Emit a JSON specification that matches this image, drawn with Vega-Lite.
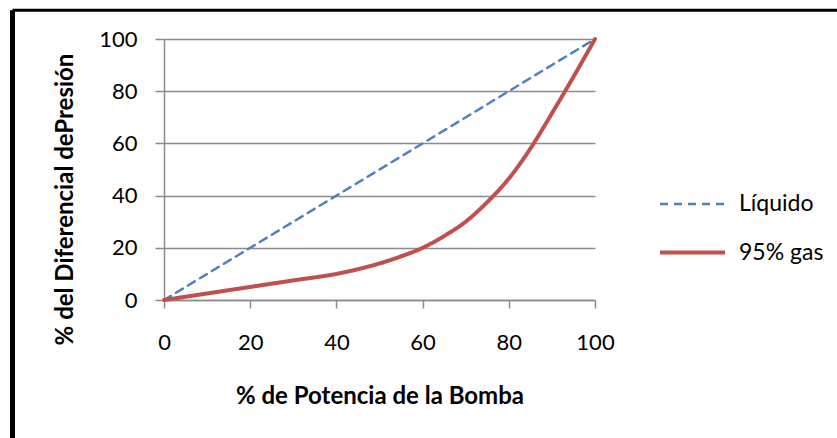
{
  "$schema": "https://vega.github.io/schema/vega-lite/v6.json",
  "autosize": {"type": "none"},
  "width": 431,
  "height": 261,
  "padding": {"left": 164, "top": 39, "right": 242, "bottom": 138},
  "background": "white",
  "config": {
    "view": {"stroke": null},
    "font": "Lato",
    "axis": {
      "labelFont": "Lato",
      "titleFont": "Lato",
      "labelFontSize": 22,
      "labelColor": "#000000",
      "labelFlush": false,
      "titleColor": "#000000",
      "titleFontSize": 24,
      "titleFontWeight": "bold",
      "domainColor": "#8c8c8c",
      "domainWidth": 1.5,
      "tickColor": "#8c8c8c",
      "tickWidth": 1.5,
      "gridColor": "#8c8c8c",
      "gridWidth": 1.5
    },
    "legend": {
      "labelFont": "Lato",
      "labelFontSize": 23,
      "labelColor": "#000000"
    }
  },
  "datasets": {
    "curves": [
      {"potencia": 0, "presion": 0, "serie": "Líquido"},
      {"potencia": 100, "presion": 100, "serie": "Líquido"},
      {"potencia": 0, "presion": 0, "serie": "95% gas"},
      {"potencia": 10, "presion": 2.5, "serie": "95% gas"},
      {"potencia": 20, "presion": 5, "serie": "95% gas"},
      {"potencia": 30, "presion": 7.5, "serie": "95% gas"},
      {"potencia": 40, "presion": 10, "serie": "95% gas"},
      {"potencia": 50, "presion": 14, "serie": "95% gas"},
      {"potencia": 55, "presion": 16.7, "serie": "95% gas"},
      {"potencia": 60, "presion": 20, "serie": "95% gas"},
      {"potencia": 65, "presion": 24.5, "serie": "95% gas"},
      {"potencia": 70, "presion": 30, "serie": "95% gas"},
      {"potencia": 75, "presion": 37.5, "serie": "95% gas"},
      {"potencia": 80, "presion": 46.5, "serie": "95% gas"},
      {"potencia": 85, "presion": 58, "serie": "95% gas"},
      {"potencia": 90, "presion": 71.5, "serie": "95% gas"},
      {"potencia": 95, "presion": 85.5, "serie": "95% gas"},
      {"potencia": 100, "presion": 100, "serie": "95% gas"}
    ],
    "frame": [
      {"bx": -35.15, "by0": -60, "by1": 111, "bx2": 200, "side": "left"}
    ]
  },
  "layer": [
    {
      "data": {"name": "curves"},
      "mark": {"type": "line", "interpolate": "monotone", "strokeCap": "round"},
      "encoding": {
        "x": {
          "field": "potencia",
          "type": "quantitative",
          "scale": {"domain": [0, 100], "nice": false},
          "axis": {
            "values": [0, 20, 40, 60, 80, 100],
            "grid": false,
            "tickSize": 8,
            "labelPadding": 24,
            "title": "% de Potencia de la Bomba",
            "titleX": 215.5,
            "titleY": 103,
            "titleAlign": "center",
            "titleBaseline": "alphabetic"
          }
        },
        "y": {
          "field": "presion",
          "type": "quantitative",
          "scale": {"domain": [0, 100], "nice": false},
          "axis": {
            "values": [0, 20, 40, 60, 80, 100],
            "grid": true,
            "tickSize": 9,
            "labelPadding": 18,
            "title": "% del Diferencial dePresión",
            "titleX": -99,
            "titleY": 160,
            "titleAlign": "center",
            "titleBaseline": "middle"
          }
        },
        "color": {
          "field": "serie",
          "type": "nominal",
          "scale": {"domain": ["Líquido", "95% gas"], "range": ["#4F81BD", "#C0504D"]},
          "legend": {
            "title": null,
            "orient": "none",
            "legendX": 494,
            "legendY": 131,
            "symbolType": "stroke",
            "symbolSize": 4225,
            "labelOffset": 12,
            "rowPadding": 2,
            "padding": 0
          }
        },
        "strokeDash": {
          "field": "serie",
          "type": "nominal",
          "scale": {"domain": ["Líquido", "95% gas"], "range": [[8, 6], [1, 0]]},
          "legend": {
            "title": null,
            "orient": "none",
            "legendX": 494,
            "legendY": 131,
            "symbolType": "stroke",
            "symbolSize": 4225,
            "labelOffset": 12,
            "rowPadding": 2,
            "padding": 0
          }
        },
        "strokeWidth": {
          "field": "serie",
          "type": "nominal",
          "scale": {"domain": ["Líquido", "95% gas"], "range": [2.5, 4]},
          "legend": {
            "title": null,
            "orient": "none",
            "legendX": 494,
            "legendY": 131,
            "symbolType": "stroke",
            "symbolSize": 4225,
            "labelOffset": 12,
            "rowPadding": 2,
            "padding": 0
          }
        }
      }
    },
    {
      "data": {"name": "frame"},
      "mark": {"type": "rule", "color": "#000000", "strokeWidth": 5, "clip": false},
      "encoding": {
        "x": {"field": "bx", "type": "quantitative"},
        "y": {"field": "by0", "type": "quantitative"},
        "y2": {"field": "by1"}
      }
    },
    {
      "data": {"name": "frame"},
      "mark": {"type": "rule", "color": "#000000", "strokeWidth": 3, "clip": false},
      "encoding": {
        "x": {"field": "bx", "type": "quantitative"},
        "x2": {"field": "bx2"},
        "y": {"field": "by1", "type": "quantitative"}
      }
    }
  ]
}
